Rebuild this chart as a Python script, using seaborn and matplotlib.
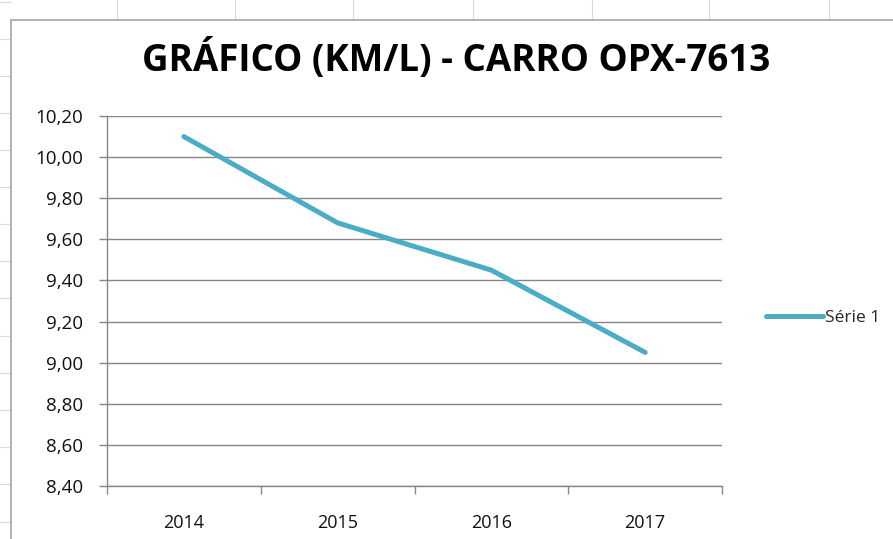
import numpy as np
import matplotlib
matplotlib.use('Agg')
import matplotlib.pyplot as plt
import seaborn as sns
from matplotlib.lines import Line2D
from matplotlib.ticker import FixedLocator, FuncFormatter

# data
anos = ['2014', '2015', '2016', '2017']
km_por_litro = [10.10, 9.68, 9.45, 9.05]
y_ticks = [8.40, 8.60, 8.80, 9.00, 9.20, 9.40, 9.60, 9.80, 10.00, 10.20]
serie_nome = 'Série 1'
titulo = 'GRÁFICO (KM/L) - CARRO OPX-7613'

sns.set_style('white')
plt.rcParams['font.family'] = ['Open Sans', 'DejaVu Sans']

grid_cor = '#868686'
linha_cor = '#4BACC6'
texto_cor = '#111111'

fig = plt.figure(figsize=(8.93, 5.39), dpi=100)

# faint spreadsheet cells behind the chart + chart frame
for xc in [117, 235, 353, 473, 592, 709, 829]:
    fig.add_artist(Line2D([xc / 893, xc / 893], [1, 1 - 20 / 539], color='#d9d9d9', lw=0.8))
for yr in [2, 39, 76, 113, 150, 187, 224, 261, 298, 336, 373, 410, 447, 484, 522]:
    fig.add_artist(Line2D([0, 11 / 893], [1 - yr / 539, 1 - yr / 539], color='#d9d9d9', lw=0.8))
fig.add_artist(Line2D([11 / 893, 11 / 893], [0, 1 - 20 / 539], color='#a6a6a6', lw=1.2))
fig.add_artist(Line2D([11 / 893, 1], [1 - 20 / 539, 1 - 20 / 539], color='#a6a6a6', lw=1.2))

ax = fig.add_axes([107 / 893, 1 - 486 / 539, 615 / 893, 370 / 539])

pos = np.arange(len(anos))
sns.lineplot(x=pos, y=km_por_litro, ax=ax, color=linha_cor, linewidth=3.6,
             solid_capstyle='round', label=serie_nome, legend=False)

ax.set_xlim(-0.5, len(anos) - 0.5)
ax.set_ylim(y_ticks[0], y_ticks[-1])
ax.set_yticks(y_ticks)
ax.yaxis.set_major_formatter(FuncFormatter(lambda v, p: f'{v:.2f}'.replace('.', ',')))
ax.yaxis.grid(True, color=grid_cor, linewidth=1.0)
ax.set_axisbelow(True)

ax.set_xticks(pos)
ax.set_xticklabels(anos)
ax.xaxis.set_minor_locator(FixedLocator(np.arange(-0.5, len(anos), 1.0)))
ax.tick_params(axis='x', which='major', length=0, pad=20, labelsize=13, labelcolor=texto_cor)
ax.tick_params(axis='x', which='minor', bottom=True, length=6, width=1, color=grid_cor)
ax.tick_params(axis='y', left=True, length=6, width=1, color=grid_cor, pad=11,
               labelsize=13.5, labelcolor=texto_cor)

for s in ['top', 'right']:
    ax.spines[s].set_visible(False)
for s in ['left', 'bottom']:
    ax.spines[s].set_color(grid_cor)
    ax.spines[s].set_linewidth(1.0)

ax.set_xlabel('')
ax.set_ylabel('')

fig.text(456 / 893, 1 - 60 / 539, titulo, ha='center', va='center',
         fontsize=26.5, fontweight='bold', color='black')

h, l = ax.get_legend_handles_labels()
fig.legend(h, l, loc='center left', bbox_to_anchor=(750 / 893, 1 - 318 / 539),
           frameon=False, fontsize=12.5, handlelength=3.3, handletextpad=0.1)

fig.savefig('out.png', dpi=100, facecolor='white')
